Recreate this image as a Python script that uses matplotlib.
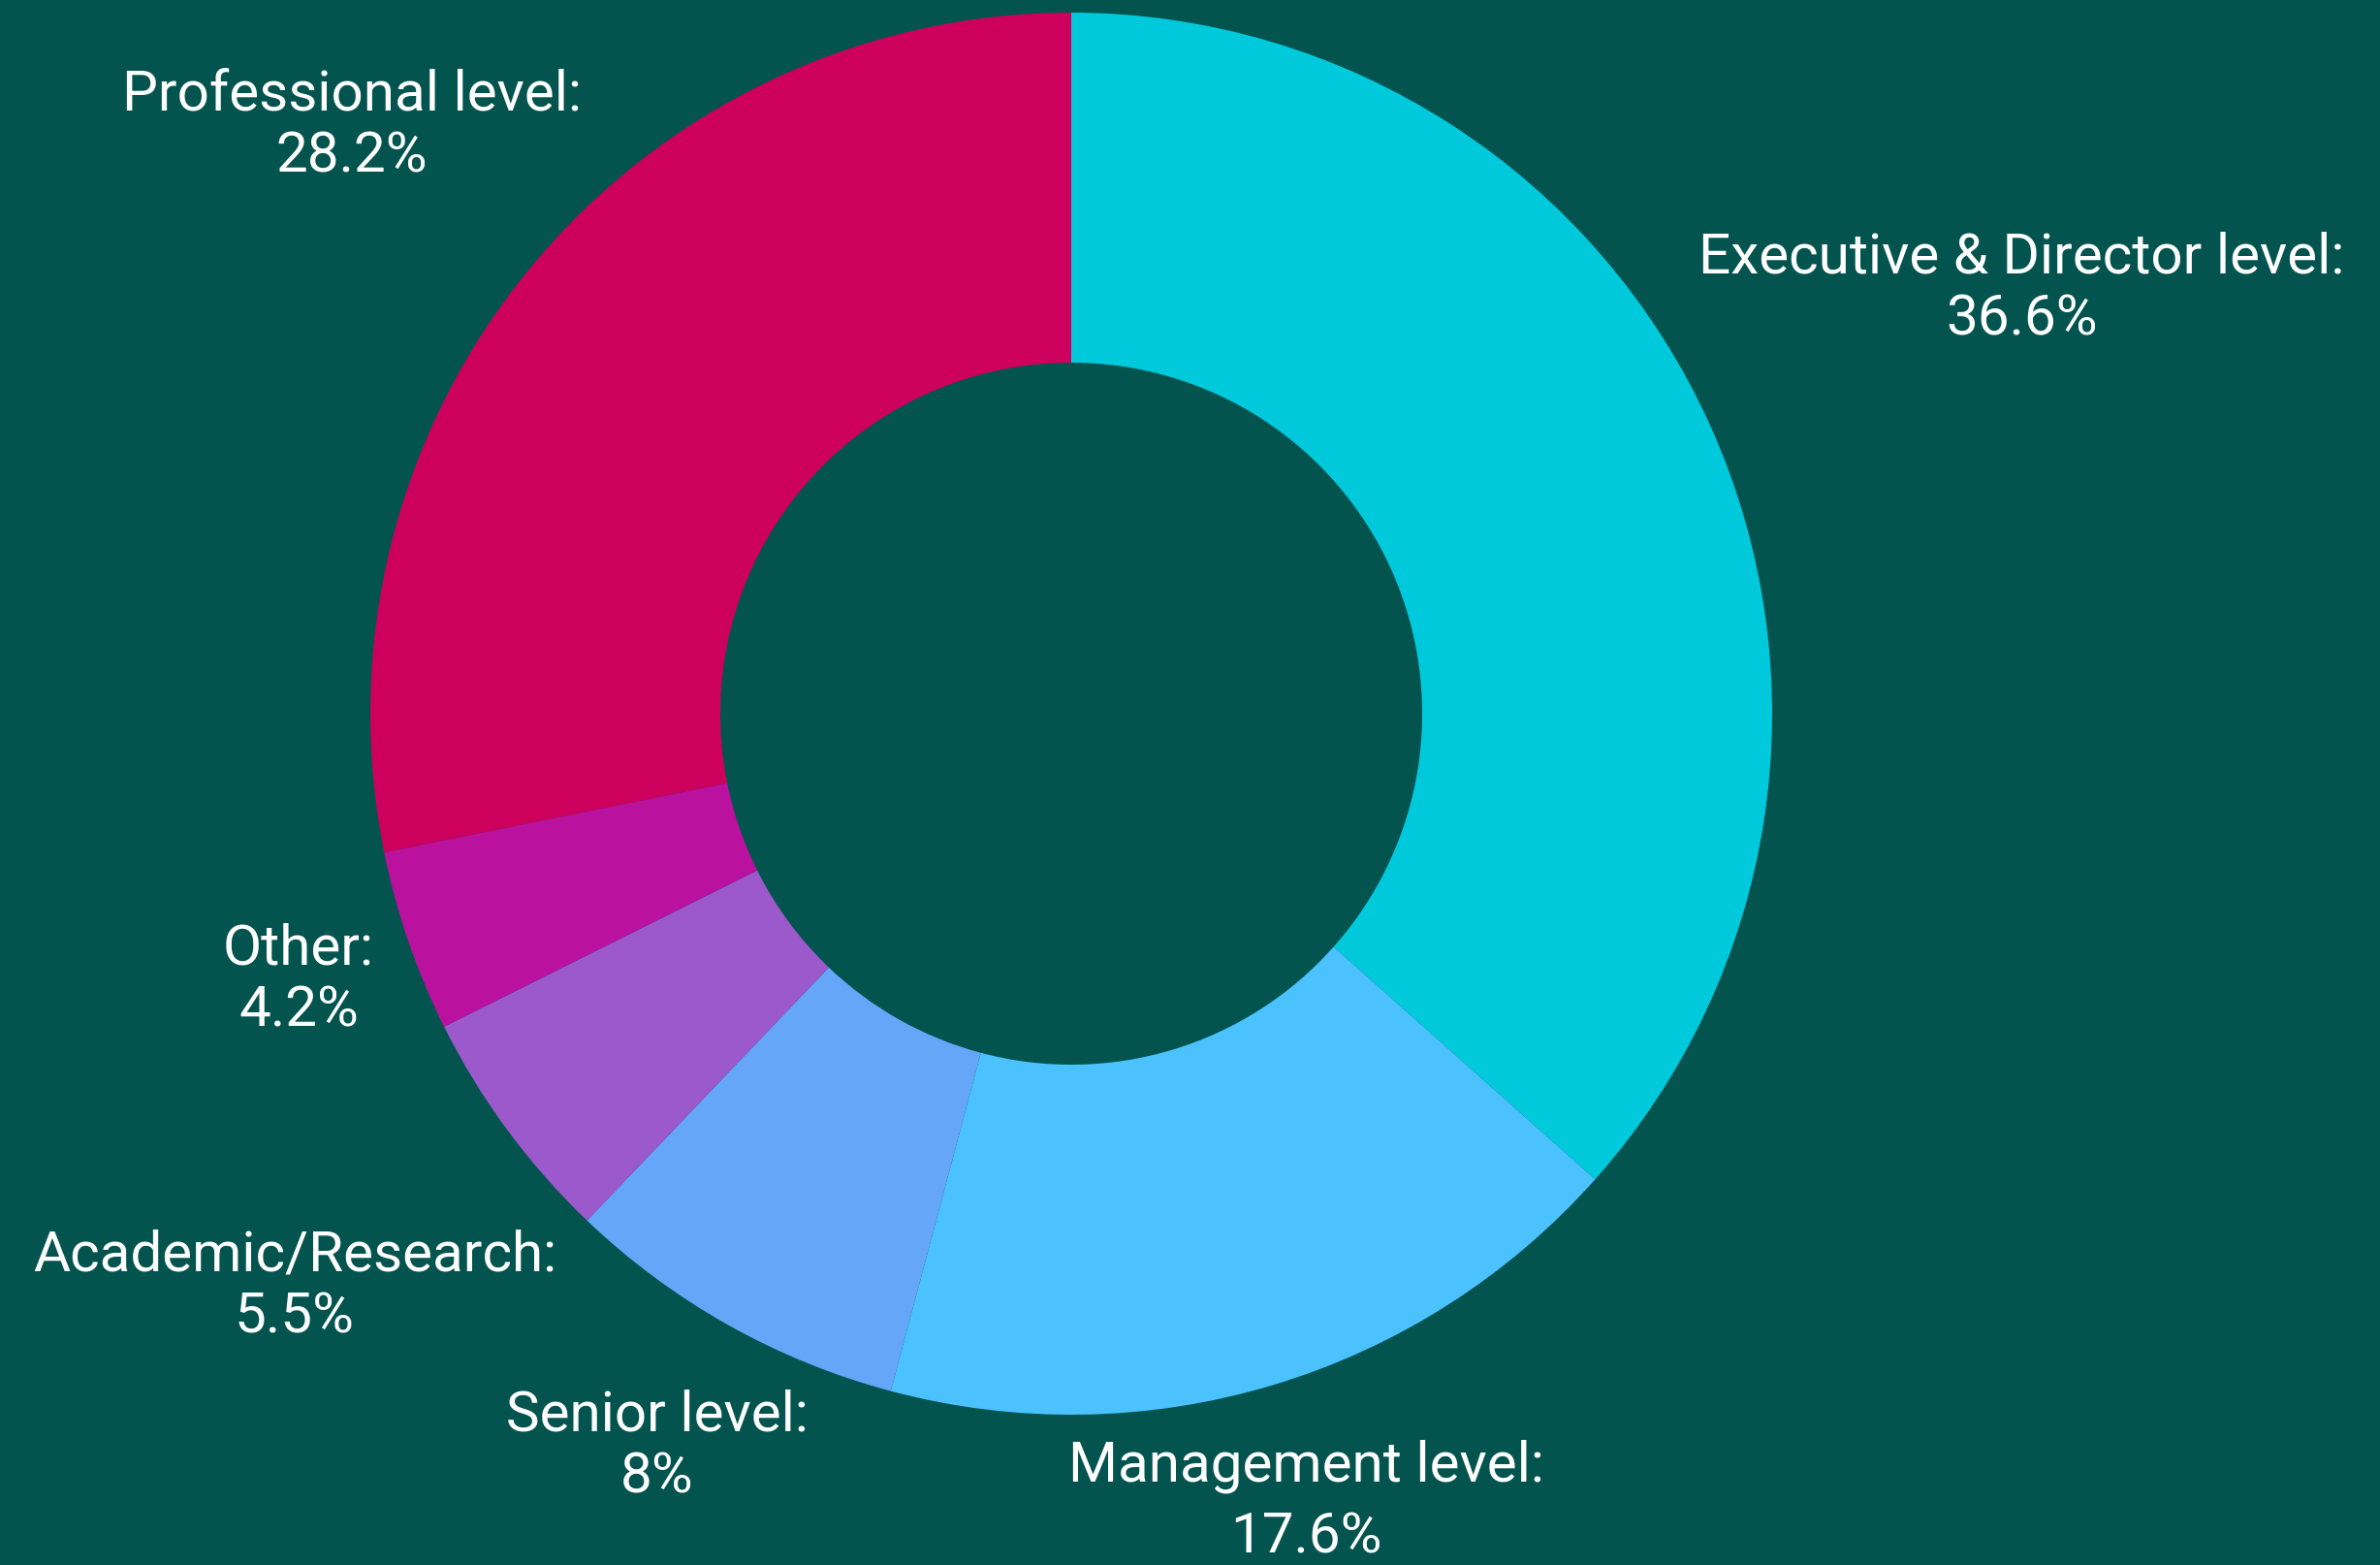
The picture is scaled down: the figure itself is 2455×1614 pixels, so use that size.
import matplotlib.pyplot as plt

plt.rcParams['font.family'] = ['Roboto', 'DejaVu Sans']

# Share of respondents by job level (%), clockwise from the top
levels = ['Executive & Director level', 'Management level', 'Senior level',
          'Academic/Research', 'Other', 'Professional level']
shares = [36.6, 17.6, 8, 5.5, 4.2, 28.2]
share_text = ['36.6%', '17.6%', '8%', '5.5%', '4.2%', '28.2%']
colors = ['#00C9DB', '#4BC2FE', '#65A6F8', '#9B59CB', '#BA119F', '#CE005D']

bg = '#03544F'
W, H = 2455, 1614

fig = plt.figure(figsize=(W / 100, H / 100), dpi=100, facecolor=bg)
ax = fig.add_axes([0, 0, 1, 1])
ax.set_facecolor(bg)

# donut geometry in pixel units
cx, cy = 1105, H - 736
r_out, r_in = 723, 362

ax.pie(shares, colors=colors, startangle=90, counterclock=False,
       center=(cx, cy), radius=r_out, frame=True,
       wedgeprops=dict(width=r_out - r_in, linewidth=0))
ax.set_xlim(0, W)
ax.set_ylim(0, H)
ax.set_aspect('equal')
ax.axis('off')

# label anchor points (pixels from top-left) and line spacing
label_pos = [(2085, 298), (1347, 1549), (678, 1492), (304, 1327), (308, 1011), (363, 130)]
spacing = [1.22, 1.42, 1.22, 1.22, 1.22, 1.22]

for name, txt, (x, y), ls in zip(levels, share_text, label_pos, spacing):
    ax.text(x, H - y, f'{name}:\n{txt}', color='white', fontsize=42,
            ha='center', va='center', multialignment='center', linespacing=ls)

fig.savefig('out.png', dpi=100, facecolor=bg)
